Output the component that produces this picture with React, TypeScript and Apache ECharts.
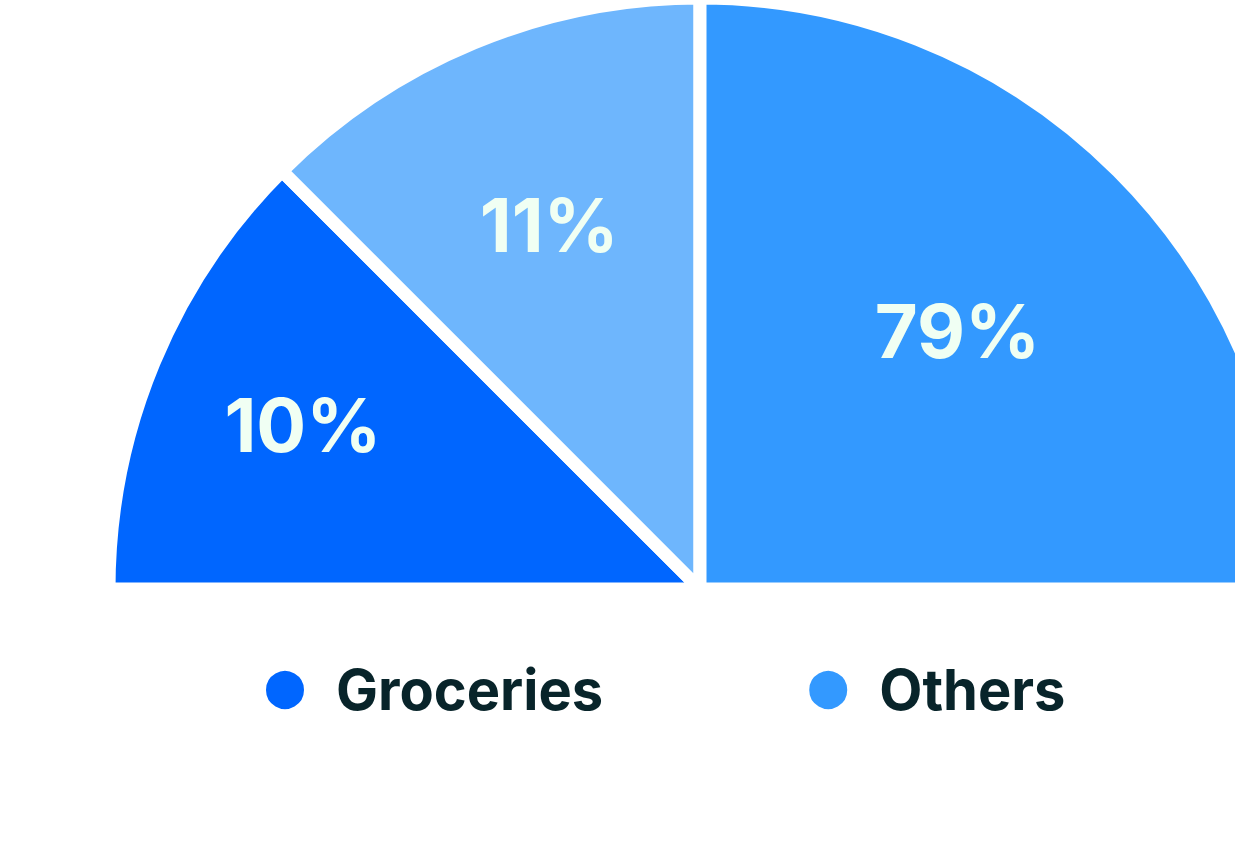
import React, { useEffect, useRef } from 'react';
import * as echarts from 'echarts';

const categories = ['Groceries', 'Dining', 'Others'];
const shares = [10, 11, 79];
const legendItems = ['Groceries', 'Others'];

const COLORS = ['#0066FF', '#6EB6FD', '#3399FF'];
const CENTER_X = 700;
const CENTER_Y = 589;
const RADIUS = 591;
const LABEL_PUSH = [1.44, 1.32, 1.22];
const FONT = 'Inter, "Noto Sans", sans-serif';

export default function App() {
  const ref = useRef<HTMLDivElement>(null);
  useEffect(() => {
    const chart = echarts.init(ref.current!, null, { renderer: 'svg' });
    chart.setOption({
      animation: false,
      legend: {
        data: legendItems,
        left: 259,
        top: 657,
        icon: 'circle',
        itemWidth: 40,
        itemHeight: 40,
        itemGap: 204,
        textStyle: {
          color: '#08242A',
          fontSize: 56,
          fontWeight: 700,
          fontFamily: FONT,
          padding: [0, 0, 0, 26],
        },
      },
      series: [
        {
          type: 'pie',
          center: [CENTER_X, CENTER_Y],
          radius: RADIUS,
          startAngle: 180,
          endAngle: 0,
          minAngle: 45,
          clockwise: true,
          data: categories.map((name, i) => ({
            name,
            value: shares[i],
            itemStyle: { color: COLORS[i] },
          })),
          itemStyle: { borderColor: '#ffffff', borderWidth: 13 },
          label: {
            show: true,
            position: 'inside',
            formatter: '{c}%',
            color: '#F0FFF3',
            fontSize: 74,
            fontWeight: 700,
            fontFamily: FONT,
          },
          labelLine: { show: false },
          emphasis: { disabled: true },
          labelLayout: (p: any) => {
            const r = p.labelRect;
            const lx = r.x + r.width / 2;
            const ly = r.y + r.height / 2;
            const k = LABEL_PUSH[p.dataIndex] ?? 1;
            return {
              x: CENTER_X + (lx - CENTER_X) * k,
              y: CENTER_Y + (ly - CENTER_Y) * k,
            };
          },
        },
      ],
    });
    return () => chart.dispose();
  }, []);
  return (
    <div
      ref={ref}
      style={{ position: 'absolute', left: 0, top: 0, width: 1235, height: 863 }}
    />
  );
}
